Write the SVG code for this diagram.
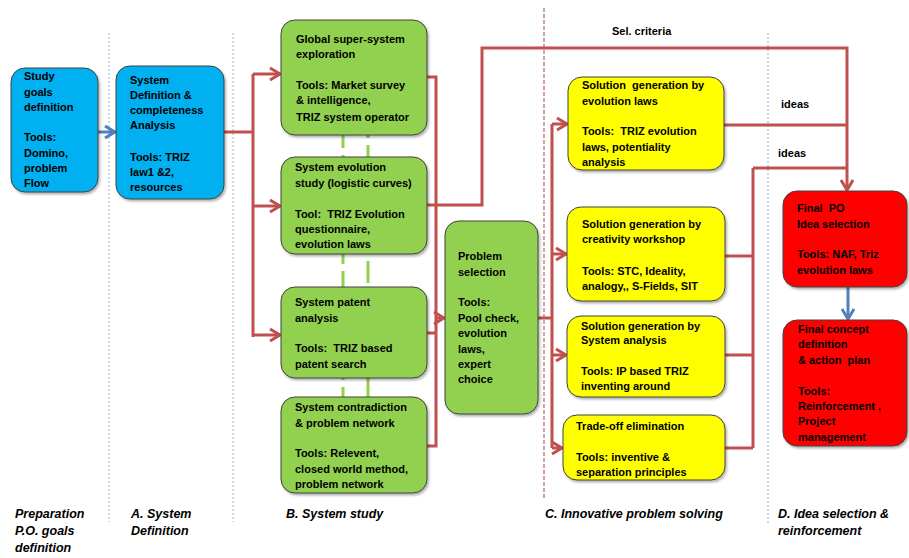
<svg xmlns="http://www.w3.org/2000/svg" width="909" height="558" viewBox="0 0 909 558">
<style>
.t{font-family:"Liberation Sans",Arial,sans-serif;font-size:11px;font-weight:bold;fill:#000;white-space:pre}
.lab{font-family:"Liberation Sans",Arial,sans-serif;font-size:12.5px;font-weight:bold;font-style:italic;fill:#000}
.box{stroke:#404040;stroke-width:1;filter:url(#sh)}
.blue{fill:#00b0f0}.green{fill:#92d050}.yellow{fill:#ffff00}.red{fill:#ff0000}
.div{stroke:#8fb0d8;stroke-width:1;stroke-dasharray:2 2;fill:none}
.rc{stroke:#c0504d;stroke-width:3;fill:none}
.bc{stroke:#4f81bd;stroke-width:3;fill:none}
.gd{stroke:#92d050;stroke-width:3;stroke-dasharray:22 7;fill:none}
</style>
<defs>
<filter id="sh" x="-10%" y="-10%" width="125%" height="125%">
<feDropShadow dx="1.5" dy="2" stdDeviation="1.2" flood-color="#000" flood-opacity="0.3"/>
</filter>
<marker id="ar" markerUnits="userSpaceOnUse" markerWidth="14" markerHeight="16" refX="11" refY="7" orient="auto" viewBox="0 0 14 14">
<path d="M1,1 L11,7 L1,13" fill="none" stroke="#c0504d" stroke-width="3"/>
</marker>
<marker id="ab" markerUnits="userSpaceOnUse" markerWidth="14" markerHeight="16" refX="11" refY="7" orient="auto" viewBox="0 0 14 14">
<path d="M1,1 L11,7 L1,13" fill="none" stroke="#4f81bd" stroke-width="3"/>
</marker>
</defs>
<rect width="909" height="558" fill="#fff"/>
<g id="dividers">
<line class="div" x1="109" y1="33" x2="109" y2="522"/>
<line class="div" x1="233" y1="33" x2="233" y2="522"/>
<line x1="544" y1="8" x2="544" y2="500" stroke="#a04848" stroke-width="1" stroke-dasharray="4 2"/>
<line class="div" x1="768" y1="33" x2="768" y2="525"/>
</g>
<g id="green-links">
<line class="gd" x1="343" y1="130" x2="343" y2="400" stroke-dashoffset="4"/>
<line class="gd" x1="368" y1="130" x2="368" y2="400" stroke-dashoffset="14"/>
</g>
<g id="connectors">
<path class="rc" d="M224,132 H253 M253,74 V337"/>
<path class="rc" marker-end="url(#ar)" d="M253,74 H280"/>
<path class="rc" marker-end="url(#ar)" d="M253,206 H280"/>
<path class="rc" marker-end="url(#ar)" d="M253,335 H280"/>
<path class="rc" d="M427,77 H436 V446 H427 M427,333 H436"/>
<path class="rc" marker-end="url(#ar)" d="M436,318 H444"/>
<path class="rc" marker-end="url(#ar)" d="M427,205 H482 V48 H847 V190"/>
<path class="rc" d="M538,318 H552 M552,124 V448"/>
<path class="rc" marker-end="url(#ar)" d="M552,124 H567"/>
<path class="rc" marker-end="url(#ar)" d="M552,254 H566"/>
<path class="rc" marker-end="url(#ar)" d="M552,355 H566"/>
<path class="rc" marker-end="url(#ar)" d="M552,448 H562"/>
<path class="rc" d="M724,125 H847"/>
<path class="rc" d="M725,256 H753 M753,168 V448 M725,355 H753 M725,448 H753 M753,168 H847"/>
<path class="bc" marker-end="url(#ab)" d="M98,132 H115"/>
<path class="bc" marker-end="url(#ab)" d="M848,287 V319"/>
<text class="t" x="612" y="35">Sel. criteria</text>
<text class="t" x="781" y="108">ideas</text>
<text class="t" x="778" y="157">ideas</text>
</g>
<g id="n-study">
<rect class="box blue" x="11" y="68" width="87" height="124" rx="14"/>
<text class="t" x="24" y="80">Study</text>
<text class="t" x="24" y="96">goals</text>
<text class="t" x="24" y="111">definition</text>
<text class="t" x="24" y="141">Tools:</text>
<text class="t" x="24" y="157">Domino,</text>
<text class="t" x="24" y="172">problem</text>
<text class="t" x="24" y="187">Flow</text>
</g>
<g id="n-sysdef">
<rect class="box blue" x="116" y="66" width="108" height="133" rx="14"/>
<text class="t" x="130" y="84">System</text>
<text class="t" x="130" y="99">Definition &amp;</text>
<text class="t" x="130" y="114">completeness</text>
<text class="t" x="130" y="129">Analysis</text>
<text class="t" x="130" y="161">Tools: TRIZ</text>
<text class="t" x="130" y="176">law1 &amp;2,</text>
<text class="t" x="130" y="191">resources</text>
</g>
<g id="n-global">
<rect class="box green" x="281" y="20" width="146" height="115" rx="14"/>
<text class="t" x="296" y="43">Global super-system</text>
<text class="t" x="296" y="58">exploration</text>
<text class="t" x="296" y="89">Tools: Market survey</text>
<text class="t" x="296" y="104">&amp; intelligence,</text>
<text class="t" x="296" y="121">TRIZ system operator</text>
</g>
<g id="n-evolution">
<rect class="box green" x="281" y="157" width="146" height="97" rx="14"/>
<text class="t" x="295" y="171">System evolution</text>
<text class="t" x="295" y="187">study (logistic curves)</text>
<text class="t" x="295" y="218">Tool:  TRIZ Evolution</text>
<text class="t" x="295" y="233">questionnaire,</text>
<text class="t" x="295" y="248">evolution laws</text>
</g>
<g id="n-patent">
<rect class="box green" x="281" y="287" width="146" height="91" rx="14"/>
<text class="t" x="295" y="306">System patent</text>
<text class="t" x="295" y="322">analysis</text>
<text class="t" x="295" y="352">Tools:  TRIZ based</text>
<text class="t" x="295" y="368">patent search</text>
</g>
<g id="n-contradiction">
<rect class="box green" x="281" y="397" width="146" height="96" rx="14"/>
<text class="t" x="295" y="411">System contradiction</text>
<text class="t" x="295" y="427">&amp; problem network</text>
<text class="t" x="295" y="457">Tools: Relevent,</text>
<text class="t" x="295" y="473">closed world method,</text>
<text class="t" x="295" y="488">problem network</text>
</g>
<g id="n-problem">
<rect class="box green" x="445" y="221" width="93" height="193" rx="14"/>
<text class="t" x="458" y="260">Problem</text>
<text class="t" x="458" y="276">selection</text>
<text class="t" x="458" y="306">Tools:</text>
<text class="t" x="458" y="322">Pool check,</text>
<text class="t" x="458" y="337">evolution</text>
<text class="t" x="458" y="353">laws,</text>
<text class="t" x="458" y="368">expert</text>
<text class="t" x="458" y="383">choice</text>
</g>
<g id="n-sol-evolution">
<rect class="box yellow" x="568" y="77" width="156" height="93" rx="14"/>
<text class="t" x="582" y="89">Solution  generation by</text>
<text class="t" x="582" y="105">evolution laws</text>
<text class="t" x="582" y="135">Tools:  TRIZ evolution</text>
<text class="t" x="582" y="151">laws, potentiality</text>
<text class="t" x="582" y="166">analysis</text>
</g>
<g id="n-sol-creativity">
<rect class="box yellow" x="567" y="207" width="158" height="94" rx="14"/>
<text class="t" x="582" y="228">Solution generation by</text>
<text class="t" x="582" y="243">creativity workshop</text>
<text class="t" x="582" y="275">Tools: STC, Ideality,</text>
<text class="t" x="582" y="290">analogy,, S-Fields, SIT</text>
</g>
<g id="n-sol-system">
<rect class="box yellow" x="567" y="316" width="158" height="81" rx="14"/>
<text class="t" x="581" y="330">Solution generation by</text>
<text class="t" x="581" y="344">System analysis</text>
<text class="t" x="581" y="375">Tools: IP based TRIZ</text>
<text class="t" x="581" y="390">inventing around</text>
</g>
<g id="n-tradeoff">
<rect class="box yellow" x="563" y="415" width="162" height="65" rx="14"/>
<text class="t" x="576" y="430">Trade-off elimination</text>
<text class="t" x="576" y="461">Tools: inventive &amp;</text>
<text class="t" x="576" y="476">separation principles</text>
</g>
<g id="n-final-po">
<rect class="box red" x="783" y="191" width="124" height="96" rx="14"/>
<text class="t" x="797" y="212">Final  PO</text>
<text class="t" x="797" y="228">Idea selection</text>
<text class="t" x="797" y="258">Tools: NAF, Triz</text>
<text class="t" x="797" y="274">evolution laws</text>
</g>
<g id="n-final-concept">
<rect class="box red" x="783" y="320" width="124" height="126" rx="14"/>
<text class="t" x="798" y="333">Final concept</text>
<text class="t" x="798" y="348">definition</text>
<text class="t" x="798" y="364">&amp; action  plan</text>
<text class="t" x="798" y="395">Tools:</text>
<text class="t" x="798" y="410">Reinforcement ,</text>
<text class="t" x="798" y="425">Project</text>
<text class="t" x="798" y="441">management</text>
</g>
<g id="phase-labels">
<text class="lab" x="15" y="518">Preparation</text>
<text class="lab" x="15" y="535">P.O. goals</text>
<text class="lab" x="15" y="552">definition</text>
<text class="lab" x="131" y="518">A. System</text>
<text class="lab" x="131" y="535">Definition</text>
<text class="lab" x="286" y="518">B. System study</text>
<text class="lab" x="545" y="518">C. Innovative problem solving</text>
<text class="lab" x="778" y="518">D. Idea selection &amp;</text>
<text class="lab" x="778" y="535">reinforcement</text>
</g>
</svg>
